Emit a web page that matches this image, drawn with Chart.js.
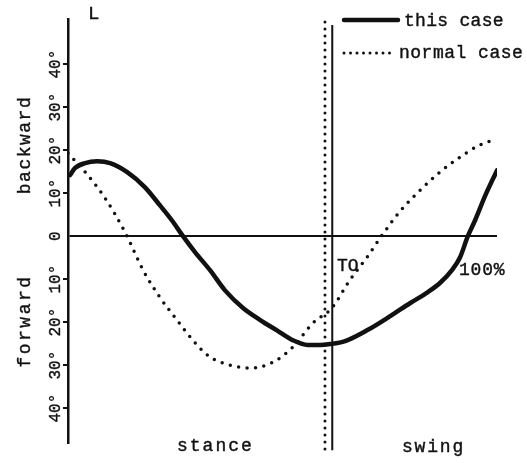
<!DOCTYPE html>
<html>
<head>
<meta charset="utf-8">
<script src="https://cdn.jsdelivr.net/npm/chart.js@4.4.1/dist/chart.umd.min.js"></script>
<style>
  html, body { margin: 0; padding: 0; background: #fff; }
  #wrap { width: 527px; height: 463px; position: relative; }
</style>
</head>
<body>
<div id="wrap"><canvas id="hipChart"></canvas></div>
<script>
// gait cycle (%) and hip angle (deg, + = backward, - = forward)
const thisCasePct = [0.5, 1.6, 4.0, 6.8, 9.8, 13.8, 17.9, 21.4, 24.2, 26.8, 29.6, 33.1, 36.6, 40.8, 44.8, 48.7,
  52.4, 55.9, 58.7, 61.1, 64.6, 69.7, 75.1, 79.7, 83.9, 86.7, 89.5, 91.4, 93.2, 94.9, 97.2, 100];
const thisCaseAngle = [14.2, 15.8, 17.0, 17.4, 17.0, 14.9, 11.4, 7.2, 3.7, 0, -3.7, -7.9, -12.6, -16.7, -19.5, -21.9,
  -24.2, -25.3, -25.3, -25.1, -24.4, -21.9, -18.6, -15.6, -13.0, -10.9, -7.9, -4.9, 0, 3.7, 9.3, 15.3];

const normalPct = [0, 4.0, 8.2, 13.3, 17.5, 21.4, 25.4, 29.1, 33.1, 37.8, 42.4, 47.8, 52.4, 57.1, 61.5, 65.7,
  69.7, 73.2, 77.4, 82.1, 86.7, 91.4, 96.0, 100];
const normalAngle = [19.3, 14.9, 9.5, 0.9, -7.9, -14.2, -19.5, -24.2, -28.1, -30.0, -30.7, -29.3, -25.8, -20.2, -16.7, -10.2,
  -4.9, 0.2, 5.8, 10.7, 14.9, 18.4, 21.2, 22.6];

const toeOffThisPct = 61.6;
const toeOffNormalPct = 59.9;

const yTickValues = [-40, -30, -20, -10, 0, 10, 20, 30, 40];
const Y_MIN = -48.1;
const Y_MAX = 50.5;

const INK = '#111';
const FONT = "'Liberation Mono', 'Courier New', monospace";

function pairs(xs, ys) {
  return xs.map((x, i) => ({ x: x, y: ys[i] }));
}

function tickText(v) {
  return v === 0 ? '0' : Math.abs(v) + '°';
}

const annotations = {
  id: 'annotations',
  afterDraw(chart) {
    const ctx = chart.ctx;
    const ds = chart.data.datasets;
    ctx.save();
    ctx.fillStyle = INK;
    ctx.strokeStyle = INK;
    ctx.textAlign = 'left';
    ctx.textBaseline = 'alphabetic';

    // typewriter ink is a little heavier than the plain font
    function text(str, x, y, size, spacing) {
      ctx.font = size + 'px ' + FONT;
      ctx.letterSpacing = (spacing || 0) + 'px';
      ctx.lineWidth = 0.4;
      ctx.fillText(str, x, y);
      ctx.strokeText(str, x, y);
    }
    function vtext(str, x, y, size, spacing) {
      ctx.save();
      ctx.translate(x, y);
      ctx.rotate(-Math.PI / 2);
      ctx.textAlign = 'center';
      text(str, 0, 0, size, spacing);
      ctx.restore();
    }

    // legend
    ctx.lineCap = 'round';
    ctx.lineWidth = 4.5;
    ctx.beginPath();
    ctx.moveTo(344, 20);
    ctx.lineTo(398, 20);
    ctx.stroke();
    ctx.lineWidth = 3;
    ctx.setLineDash([0, 6.5]);
    ctx.beginPath();
    ctx.moveTo(344, 53);
    ctx.lineTo(396, 53);
    ctx.stroke();
    ctx.setLineDash([]);
    text(ds[0].label, 404, 26, 18, 0.3);
    text(ds[1].label, 399, 58, 18, 0.5);

    text('L', 88, 19, 19, 0);
    text('TO', 337, 271, 18, 0);
    text('100%', 459, 275, 18, 0.8);
    text('stance', 177, 451, 18, 2);
    text('swing', 402, 452, 18, 1.8);

    vtext('backward', 30, 145, 18, 1.5);
    vtext('forward', 30, 321, 18, 2.5);
    ctx.restore();
  }
};

new Chart(document.getElementById('hipChart'), {
  type: 'line',
  data: {
    datasets: [{
      label: 'this case',
      data: pairs(thisCasePct, thisCaseAngle),
      borderColor: INK,
      borderWidth: 4.5,
      borderCapStyle: 'round',
      cubicInterpolationMode: 'monotone',
      pointRadius: 0,
      fill: false
    }, {
      label: 'normal case',
      data: pairs(normalPct, normalAngle),
      borderColor: INK,
      borderWidth: 3.5,
      borderDash: [0, 8.5],
      borderCapStyle: 'round',
      cubicInterpolationMode: 'monotone',
      pointRadius: 0,
      fill: false
    }, {
      label: 'toe off (this case)',
      data: [{ x: toeOffThisPct, y: 49.1 }, { x: toeOffThisPct, y: -49.8 }],
      borderColor: INK,
      borderWidth: 2,
      tension: 0,
      pointRadius: 0,
      clip: false
    }, {
      label: 'toe off (normal case)',
      data: [{ x: toeOffNormalPct, y: 49.8 }, { x: toeOffNormalPct, y: -49.8 }],
      borderColor: INK,
      borderWidth: 3,
      borderDash: [0, 7],
      borderCapStyle: 'round',
      tension: 0,
      pointRadius: 0,
      clip: false
    }]
  },
  options: {
    responsive: true,
    maintainAspectRatio: false,
    animation: false,
    layout: { padding: { left: 0, top: 19, right: 30, bottom: 20 } },
    plugins: {
      legend: { display: false },
      tooltip: { enabled: false }
    },
    scales: {
      x: {
        type: 'linear',
        min: 0,
        max: 100,
        display: false
      },
      y: {
        type: 'linear',
        min: Y_MIN,
        max: Y_MAX,
        afterBuildTicks: (scale) => {
          scale.ticks = yTickValues.map(v => ({ value: v }));
        },
        afterFit: (scale) => {
          scale.width = 68;
        },
        border: { display: true, color: INK, width: 2.5 },
        grid: {
          drawOnChartArea: true,
          color: (c) => (c.tick && c.tick.value === 0 ? INK : 'rgba(0,0,0,0)'),
          lineWidth: 2,
          tickLength: 5,
          tickWidth: 2,
          tickColor: (c) => (c.tick && c.tick.value === 0 ? 'rgba(0,0,0,0)' : INK)
        },
        ticks: {
          minRotation: 90,
          maxRotation: 90,
          crossAlign: 'center',
          padding: -7,
          color: INK,
          textStrokeColor: INK,
          textStrokeWidth: 0.4,
          font: { family: FONT, size: 16 },
          callback: (v) => tickText(v)
        }
      }
    }
  },
  plugins: [annotations]
});
</script>
</body>
</html>
